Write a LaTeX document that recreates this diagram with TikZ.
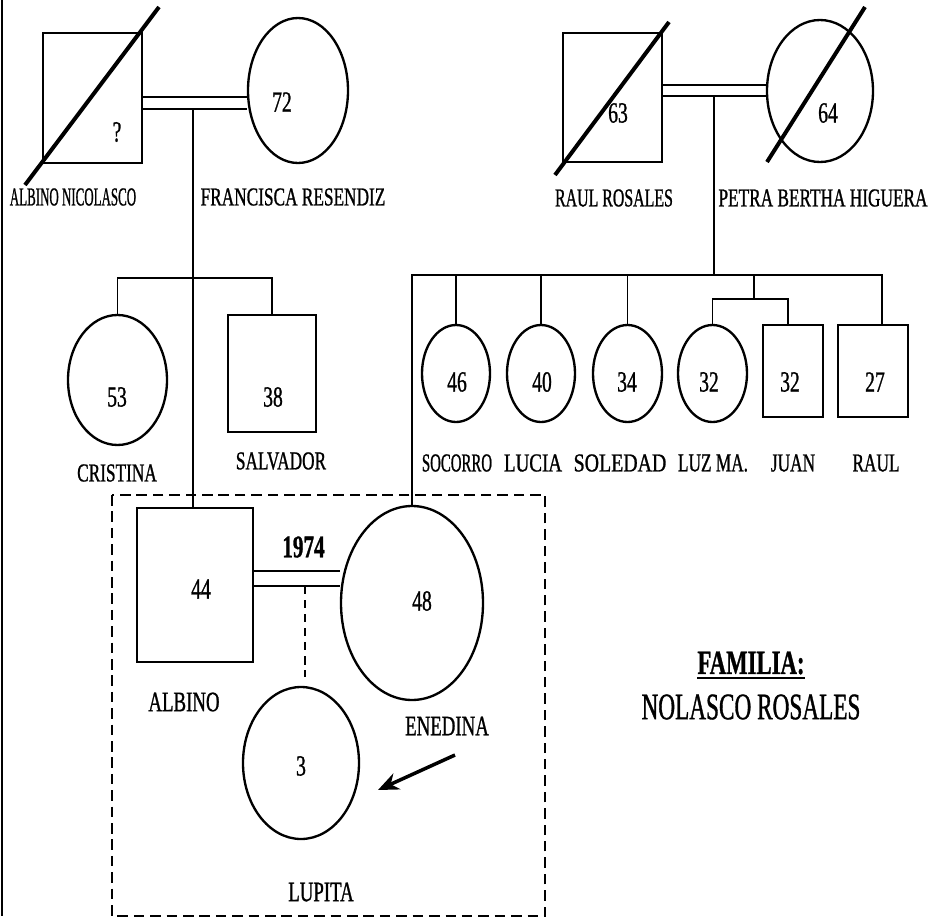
\documentclass[tikz,border=0pt]{standalone}
\usepackage{graphicx}
\usepackage{fontspec}
\setmainfont{Liberation Serif}
\newfontfamily\cf[FakeStretch=0.67,FakeBold=0.9]{Liberation Serif}
\newfontfamily\cfn[FakeStretch=0.62,FakeBold=0.9]{Liberation Serif}
\usetikzlibrary{shapes.geometric,arrows.meta,calc}
\newcommand\pu{0.03cm}
\newcommand\sx[2]{\scalebox{#1}[1]{#2}}
\begin{document}
\begin{tikzpicture}[x=0.03cm,y=-0.03cm,
  sq/.style={draw,rectangle,line width=2pt,inner sep=0},
  fem/.style={draw,ellipse,line width=2pt,inner sep=0},
  lbl/.style={inner sep=0,font={\cf\fontsize{22}{26}\selectfont}},
  lblb/.style={inner sep=0,font={\cf\fontsize{24}{28}\selectfont}},
  num/.style={inner sep=0,font={\cf\fontsize{25}{28}\selectfont}},
  link/.style={line width=1.3pt},
  wed/.style={line width=2pt},
  dead/.style={line width=3.4pt},
]
\useasboundingbox (0,0) rectangle (939,919);
% left scan edge
\draw[line width=1.6pt] (2,0) -- (2,916);

% ---------- generation I ----------
\node[sq,minimum width=99*\pu,minimum height=130*\pu] (an) at (92.5,98) {};
\node[fem,minimum width=100*\pu,minimum height=145*\pu] (fr) at (298,90.5) {};
\node[sq,minimum width=99*\pu,minimum height=129*\pu] (rr) at (612.5,97.5) {};
\node[fem,minimum width=106*\pu,minimum height=142*\pu] (pb) at (820,91) {};

\coordinate (x1a) at (25,185); \coordinate (x1b) at (159,7);
\coordinate (x2a) at (555,175); \coordinate (x2b) at (669,22);
\coordinate (x3a) at (767,162); \coordinate (x3b) at (865,7);
\draw[dead] (x1a) -- (x1b);
\draw[dead] (x2a) -- (x2b);
\draw[dead] (x3a) -- (x3b);

\node[num] (nq) at (117,132) {?};
\node[num] (n72) at (282,102) {72};
\node[num] (n63) at (618,113) {63};
\node[num] (n64) at (828,113) {64};

\node[lbl] (lan) at (73,197) {\sx{0.75}{ALBINO NICOLASCO}};
\node[lbl] (lfr) at (293,197) {FRANCISCA RESENDIZ};
\node[lbl] (lrr) at (614,198) {\sx{0.92}{RAUL ROSALES}};
\node[lbl] (lpb) at (823,198) {PETRA BERTHA HIGUERA};

% marriages
\coordinate (w1a) at (0,97); \coordinate (w1b) at (0,109);
\draw[wed] (an.east |- w1a) -- (fr.west |- w1a);
\draw[wed] (an.east |- w1b) -- (fr.west |- w1b);
\coordinate (w2a) at (0,85); \coordinate (w2b) at (0,96);
\draw[wed] (rr.east |- w2a) -- (pb.west |- w2a);
\draw[wed] (rr.east |- w2b) -- (pb.west |- w2b);

% ---------- generation II ----------
\node[fem,minimum width=99*\pu,minimum height=130*\pu] (cr) at (117.5,380) {};
\node[sq,minimum width=88*\pu,minimum height=117*\pu] (sa) at (272,373.5) {};
\node[fem,minimum width=68*\pu,minimum height=97*\pu] (so) at (456,373.5) {};
\node[fem,minimum width=68*\pu,minimum height=97*\pu] (lu) at (541,373.5) {};
\node[fem,minimum width=69*\pu,minimum height=97*\pu] (sl) at (627.5,373.5) {};
\node[fem,minimum width=69*\pu,minimum height=97*\pu] (lz) at (712.5,373.5) {};
\node[sq,minimum width=60*\pu,minimum height=92*\pu] (ju) at (793,371) {};
\node[sq,minimum width=70*\pu,minimum height=92*\pu] (ra) at (873,371) {};

\node[num] (n53) at (117,397) {53};
\node[num] (n38) at (273,397) {38};
\node[num] (n46) at (457,382) {46};
\node[num] (n40) at (542,382) {40};
\node[num] (n34) at (627,382) {34};
\node[num] (n32a) at (709,382) {32};
\node[num] (n32b) at (790,382) {32};
\node[num] (n27) at (875,382) {27};

\node[lbl] (lcr) at (117,473) {CRISTINA};
\node[lbl] (lsa) at (281,461) {SALVADOR};
\node[lbl] (lso) at (457,463) {\sx{0.86}{SOCORRO}};
\node[lbl] (llu) at (533,463) {\sx{1.1}{LUCIA}};
\node[lbl] (lsl) at (620,463) {\sx{1.15}{SOLEDAD}};
\node[lbl] (llz) at (713,463) {LUZ MA.};
\node[lbl] (lju) at (793,463) {JUAN};
\node[lbl] (lra) at (876,463) {RAUL};

% ---------- generation III ----------
\node[sq,minimum width=116*\pu,minimum height=154*\pu] (al) at (195,585) {};
\node[fem,minimum width=142*\pu,minimum height=194*\pu] (en) at (412,603) {};
\node[fem,minimum width=116*\pu,minimum height=152*\pu] (lp) at (301,763) {};

\node[num] (n44) at (201,589) {44};
\node[num] (n48) at (422,601) {48};
\node[num] (n3) at (301,766) {3};
\node[inner sep=0,font={\cf\bfseries\fontsize{27}{30}\selectfont}] (y74) at (303.5,547) {1974};

\node[lblb] (lal) at (184,702) {ALBINO};
\node[lblb] (len) at (447,726) {ENEDINA};
\node[lblb] (llp) at (321,892) {LUPITA};

% descent lines
\coordinate (d1) at (193,109);
\draw[link] (d1) -- (d1 |- al.north);
\coordinate (s1) at (193,278);
\draw[link] (cr.north) |- (s1) -| (sa.north);

\coordinate (d2) at (714,96);
\coordinate (s2) at (714,275);
\draw[link] (d2) -- (s2);
\draw[link] (en.north) |- (s2) -| ($(ra.north)+(9,0)$);
\draw[link] (so.north) -- (so.north |- s2);
\draw[link] (lu.north) -- (lu.north |- s2);
\draw[link] (sl.north) -- (sl.north |- s2);
\coordinate (t1) at (754,275);
\coordinate (t2) at (754,299);
\draw[link] (t1) -- (t2);
\draw[link] (lz.north) |- (t2) -| ($(ju.north)+(-5,0)$);

% marriage III
\coordinate (w3a) at (0,571); \coordinate (w3b) at (0,586);
\draw[wed] (al.east |- w3a) -- (en.west |- w3a);
\draw[wed] (al.east |- w3b) -- (en.west |- w3b);
\coordinate (d3) at (305,586);
\draw[line width=1.4pt,dash pattern=on 7pt off 5pt,shorten >=0.27cm] (d3) -- (d3 |- lp.north);

% index arrow
\coordinate (aS) at (455,755);
\coordinate (aE) at (378,790);
\draw[line width=3pt,-{Stealth[length=0.62cm,width=0.52cm]}] (aS) -- (aE);

% nuclear family box
\draw[line width=2.3pt,dash pattern=on 9pt off 5pt] (112,495) rectangle (545,916);

% title
\node[inner sep=0,font={\cf\bfseries\fontsize{29}{32}\selectfont}] (fam) at (751,663) {FAMILIA:};
\draw[line width=2pt] ($(fam.south west)+(0,3)$) -- ($(fam.south east)+(0,3)$);
\node[inner sep=0,font={\cfn\fontsize{32}{36}\selectfont}] (nol) at (751,707) {NOLASCO ROSALES};
\end{tikzpicture}
\end{document}
